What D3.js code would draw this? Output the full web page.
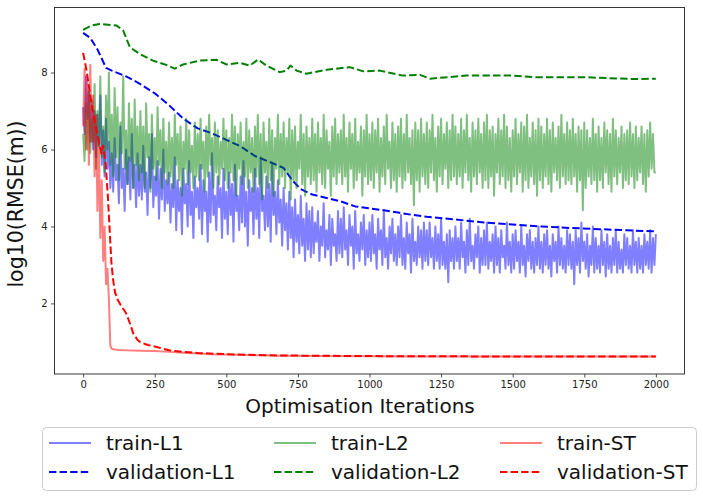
<!DOCTYPE html>
<html><head><meta charset="utf-8">
<script src="https://cdn.jsdelivr.net/npm/d3@7"></script>
<style>body{margin:0;background:#fff}svg{font-family:"DejaVu Sans",sans-serif}</style>
</head><body><svg id="c" width="703" height="498"></svg>
<script>
const xTicks = [0,250,500,750,1000,1250,1500,1750,2000];
const yTicks = [2,4,6,8];
const seriesNames = ["train-L1","validation-L1","train-L2","validation-L2","train-ST","validation-ST"];

// train curves sampled every 5 iterations (0..2000)
const trainL1 = [
7.1,6.4,7.9,6.8,7.5,6.2,7.3,6.0,7.0,5.8,6.9,6.1,7.4,5.6,6.5,5.3,6.8,5.5,6.2,5.0,
5.9,4.9,6.3,5.2,5.6,4.6,6.6,5.0,5.5,4.4,6.0,5.1,5.8,4.7,6.4,5.0,5.6,4.5,5.9,4.8,
5.6,4.7,6.1,4.9,5.4,4.3,5.8,5.0,6.4,4.5,5.3,4.8,5.7,4.2,5.5,4.7,6.0,4.4,5.2,4.6,
5.4,4.1,5.1,4.5,5.8,3.9,5.2,4.4,5.0,3.8,5.5,4.6,5.1,4.0,5.7,4.3,4.9,3.7,5.3,4.5,
5.0,4.2,5.6,3.8,5.2,4.4,4.9,3.6,5.4,4.1,5.9,4.3,4.8,3.9,5.3,4.5,5.0,3.7,5.5,4.2,
4.9,3.8,5.4,4.3,5.1,3.6,5.6,4.4,4.8,3.9,5.3,4.1,5.7,4.0,4.9,3.5,5.2,4.4,5.0,3.8,
5.5,4.2,5.0,3.7,5.8,4.4,4.8,3.9,5.3,4.0,5.1,3.6,5.6,4.3,4.9,3.8,5.2,4.1,4.7,3.5,
5.0,3.9,4.6,3.4,4.9,3.7,4.5,3.2,4.7,3.6,4.3,3.3,4.8,3.5,4.2,3.1,4.6,3.4,4.4,3.2,
4.5,3.3,4.1,3.6,4.4,3.1,4.0,3.5,4.6,3.2,3.9,3.4,4.3,3.0,4.2,3.5,3.8,3.1,4.4,3.3,
4.2,3.2,4.5,3.4,3.9,3.0,4.3,3.5,4.0,2.9,4.4,3.3,3.8,3.1,4.1,3.4,4.3,3.0,3.9,3.2,
4.1,3.1,4.3,3.3,3.8,2.9,4.2,3.4,3.9,3.0,4.4,3.2,3.7,2.9,4.0,3.3,4.2,3.1,3.8,3.0,
4.0,3.2,4.3,3.0,3.7,2.9,4.1,3.3,3.8,2.8,4.2,3.1,3.6,3.0,4.0,3.2,3.9,2.9,4.1,3.1,
3.9,3.0,4.1,3.2,3.7,2.9,4.0,3.1,3.8,2.9,4.2,3.0,3.6,2.9,3.8,2.55,3.9,3.1,3.7,2.9,
4.0,3.1,3.7,2.9,4.1,3.2,3.6,2.8,3.9,3.0,4.2,3.1,3.5,2.9,3.8,3.2,4.0,2.8,3.7,3.0,
3.9,3.0,4.1,2.9,3.6,3.1,3.8,2.8,4.0,3.0,3.7,2.8,3.9,3.2,3.5,2.9,4.1,3.0,3.6,2.8,
3.8,2.9,3.9,3.1,3.6,2.8,4.0,3.0,3.5,2.7,3.8,3.1,3.9,2.9,3.6,2.8,3.7,3.0,4.0,2.9,
3.6,2.8,3.8,3.0,3.9,2.9,3.5,2.7,3.8,3.1,3.6,2.8,4.0,3.0,3.7,2.9,3.5,2.8,3.9,3.0,
3.8,2.9,3.6,2.5,3.9,3.0,3.7,2.8,4.1,3.1,3.6,2.9,3.8,2.7,3.5,3.0,4.0,2.8,3.7,2.9,
3.5,2.8,3.9,3.0,3.6,2.7,3.8,2.9,3.5,2.8,3.7,3.0,3.9,2.8,3.6,2.9,3.4,2.8,3.8,3.0,
3.7,2.9,3.5,2.8,3.9,3.0,3.6,2.8,3.7,2.9,3.5,2.8,3.8,3.0,3.6,2.9,3.9,2.8,3.7,3.0,
3.8];

const trainL2 = [
6.4,5.7,7.2,6.0,7.5,5.9,6.8,6.2,7.7,5.5,7.0,6.1,7.9,5.8,6.6,5.4,7.4,6.0,8.0,5.6,
6.9,5.3,7.6,5.8,7.1,5.2,6.7,5.9,7.9,5.5,6.5,5.1,7.2,5.7,6.8,5.0,7.3,5.6,6.6,5.2,
7.0,5.4,6.6,5.0,7.2,5.8,6.4,4.9,6.9,5.5,6.3,5.2,7.1,5.6,6.5,5.0,6.8,5.4,6.2,5.1,
6.7,5.3,6.3,5.0,6.9,5.6,6.4,5.2,6.6,4.8,6.2,5.5,6.8,5.1,6.5,5.4,6.1,5.0,6.7,5.3,
6.4,5.2,6.8,5.5,6.2,4.9,6.6,5.3,6.9,5.6,6.3,5.0,6.7,5.4,6.5,5.1,6.2,5.5,6.8,5.2,
6.5,5.0,6.3,5.4,6.9,5.2,6.6,4.8,6.4,5.5,6.7,5.1,6.2,5.3,6.8,5.0,6.5,5.4,6.3,4.9,
6.6,5.3,6.9,5.1,6.4,4.7,6.7,5.4,6.2,5.0,6.8,5.2,6.5,4.8,6.3,5.5,6.9,5.1,6.4,5.3,
6.7,5.0,6.3,5.4,6.8,4.7,6.5,5.2,6.6,5.0,6.2,5.5,6.9,5.1,6.4,4.8,6.6,5.3,6.3,5.1,
6.8,5.2,6.4,4.9,6.7,5.4,6.3,5.1,6.9,5.0,6.5,5.5,6.2,4.8,6.6,5.3,6.8,5.1,6.4,5.4,
6.5,5.1,6.9,5.3,6.3,4.9,6.7,5.5,6.4,5.0,6.8,5.2,6.2,5.4,6.6,4.8,6.5,5.3,6.9,5.1,
6.4,5.2,6.7,5.0,6.5,5.4,6.8,4.9,6.3,5.3,6.6,5.1,6.9,5.5,6.2,5.0,6.7,5.2,6.4,4.9,
6.6,5.3,6.8,5.0,6.4,5.2,6.9,5.4,6.3,5.1,6.5,4.55,6.7,5.2,6.5,4.9,6.8,5.3,6.4,5.1,
6.7,5.0,6.5,5.4,6.9,5.2,6.3,4.9,6.6,5.3,6.8,5.1,6.4,5.5,6.7,5.0,6.5,5.2,6.9,5.3,
6.6,5.1,6.4,5.3,6.8,5.0,6.5,5.4,6.9,5.2,6.3,4.9,6.7,5.3,6.5,5.1,6.8,5.4,6.4,5.0,
6.7,5.2,6.9,5.0,6.5,5.3,6.6,4.8,6.4,5.4,6.8,5.1,6.5,5.3,6.9,5.0,6.6,5.2,6.3,4.9,
6.5,5.3,6.8,5.1,6.4,5.4,6.7,4.9,6.6,5.2,6.9,5.0,6.3,5.3,6.7,5.1,6.5,4.8,6.8,5.2,
6.6,5.0,6.4,5.3,6.8,5.1,6.5,4.9,6.7,5.4,6.3,5.2,6.6,5.0,6.9,5.3,6.4,5.1,6.7,5.2,
6.5,5.1,6.8,5.3,6.4,4.9,6.6,5.2,6.5,4.42,6.7,5.0,6.5,5.3,6.3,5.1,6.8,5.2,6.4,4.9,
6.6,5.2,6.3,5.0,6.7,5.4,6.5,5.1,6.4,4.9,6.8,5.3,6.5,5.1,6.3,5.4,6.6,5.0,6.4,5.2,
6.5,5.1,6.7,5.3,6.4,5.0,6.6,5.2,6.3,5.4,6.6,5.1,6.4,4.9,6.5,5.3,6.7,5.5,6.4,5.4,
5.4];

const trainSTIter = [0,5,10,15,20,25,30,35,40,45,50,55,60,65,70,75,80,85,90,95,100,110,125,150,200,250,300,350,400,450,500,600,700,800,1000,1200,1500,1800,2000];
const trainST = [6.6,8.1,6.0,7.8,5.6,8.2,6.2,7.4,5.3,6.9,4.4,6.2,3.7,5.2,3.1,4.0,2.5,2.9,2.1,0.9,0.82,0.80,0.79,0.78,0.77,0.76,0.74,0.72,0.70,0.68,0.67,0.65,0.64,0.63,0.625,0.62,0.62,0.62,0.62];

const valL1Iter = [0,25,50,80,100,150,200,250,300,350,400,450,500,550,600,650,700,730,760,800,850,900,950,1000,1050,1100,1150,1200,1300,1400,1500,1600,1700,1800,1900,2000];
const valL1 = [9.03,8.9,8.6,8.12,8.05,7.9,7.7,7.46,7.15,6.8,6.55,6.42,6.25,6.08,5.83,5.68,5.52,5.2,4.97,4.83,4.74,4.65,4.52,4.47,4.42,4.36,4.3,4.25,4.18,4.1,4.05,4.0,3.96,3.93,3.9,3.87];

const valL2Iter = [0,29,58,117,140,163,198,244,290,320,349,407,466,500,547,582,611,640,687,710,724,745,780,850,931,978,1036,1117,1176,1211,1339,1502,1571,1746,1920,2000];
const valL2 = [9.11,9.22,9.26,9.22,9.09,8.66,8.48,8.31,8.2,8.1,8.21,8.31,8.33,8.21,8.25,8.18,8.34,8.18,8.01,8.05,8.18,8.05,7.97,8.07,8.14,8.03,8.05,7.92,7.94,7.84,7.92,7.92,7.88,7.88,7.83,7.84];

const valSTIter = [0,12,29,47,64,70,79,87,93,99,105,111,120,130,151,165,175,190,200,225,250,300,350,400,500,650,800,1000,1500,2000];
const valST = [8.51,8.05,7.19,6.49,5.89,6.1,5.6,4.7,3.85,3.03,2.6,2.3,2.1,1.97,1.73,1.45,1.22,1.05,0.99,0.92,0.88,0.78,0.74,0.71,0.68,0.65,0.64,0.63,0.62,0.62];

const svg = d3.select("#c");
const L = 54.5, R = 684.5, T = 7.5, B = 374;
const x = d3.scaleLinear().domain([-100, 2100]).range([L, R]);
const y = d3.scaleLinear().domain([0.165, 9.69]).range([B, T]);

const trainIter = d3.range(0, 2001, 5);
function pts(xs, ys){ return ys.map((v,i)=>[xs[i], v]); }
const line = d3.line().x(d=>x(d[0])).y(d=>y(d[1]));

const series = [
  {name:"train-L1", data:pts(trainIter, trainL1), color:"#0000ff", op:0.5, dash:null},
  {name:"validation-L1", data:pts(valL1Iter, valL1), color:"#0000ff", op:1, dash:"7.4,3.2"},
  {name:"train-L2", data:pts(trainIter, trainL2), color:"#008000", op:0.5, dash:null},
  {name:"validation-L2", data:pts(valL2Iter, valL2), color:"#008000", op:1, dash:"7.4,3.2"},
  {name:"train-ST", data:pts(trainSTIter, trainST), color:"#ff0000", op:0.5, dash:null},
  {name:"validation-ST", data:pts(valSTIter, valST), color:"#ff0000", op:1, dash:"7.4,3.2"}
];

const g = svg.append("g");
series.forEach(s=>{
  g.append("path").attr("d", line(s.data)).attr("fill","none")
   .attr("stroke", s.color).attr("stroke-opacity", s.op)
   .attr("stroke-width", 2).attr("stroke-linejoin","round")
   .attr("stroke-dasharray", s.dash);
});

// axes
const xAxis = d3.axisBottom(x).tickValues(xTicks).tickSize(3.5).tickPadding(3.5).tickFormat(d3.format("d"));
const yAxis = d3.axisLeft(y).tickValues(yTicks).tickSize(3.5).tickPadding(3.5).tickFormat(d3.format("d"));
const gx = svg.append("g").attr("transform",`translate(0,${B})`).call(xAxis);
const gy = svg.append("g").attr("transform",`translate(${L},0)`).call(yAxis);
[gx,gy].forEach(a=>{
  a.select(".domain").remove();
  a.selectAll("text").attr("font-size",10).attr("font-family","DejaVu Sans").attr("fill","#222");
  a.selectAll("line").attr("stroke","#222").attr("stroke-width",0.8);
});
svg.append("rect").attr("x",L).attr("y",T).attr("width",R-L).attr("height",B-T)
  .attr("fill","none").attr("stroke","#222").attr("stroke-width",0.9);

svg.append("text").attr("x",360).attr("y",413).attr("text-anchor","middle")
  .attr("font-size",20).attr("fill","#111").text("Optimisation Iterations");
svg.append("text").attr("transform",`translate(23,204) rotate(-90)`).attr("text-anchor","middle")
  .attr("font-size",20.5).attr("fill","#111").text("log10(RMSE(m))");

// legend
const lg = svg.append("g");
lg.append("rect").attr("x",42.5).attr("y",427.5).attr("width",654).attr("height",63).attr("rx",4)
  .attr("fill","#fff").attr("fill-opacity",0.8).attr("stroke","#cccccc").attr("stroke-width",1);
const colX = [49, 274, 500];
const rowY = [443, 472];
series.forEach((s,i)=>{
  const c = Math.floor(i/2), r = i%2;
  const lx = colX[c], ly = rowY[r];
  lg.append("line").attr("x1",lx).attr("x2",lx+42).attr("y1",ly).attr("y2",ly)
    .attr("stroke",s.color).attr("stroke-opacity",s.op).attr("stroke-width",2).attr("stroke-dasharray",s.dash);
  lg.append("text").attr("x",lx+57).attr("y",ly+7).attr("font-size",20).attr("fill","#111").text(s.name);
});
</script></body></html>
